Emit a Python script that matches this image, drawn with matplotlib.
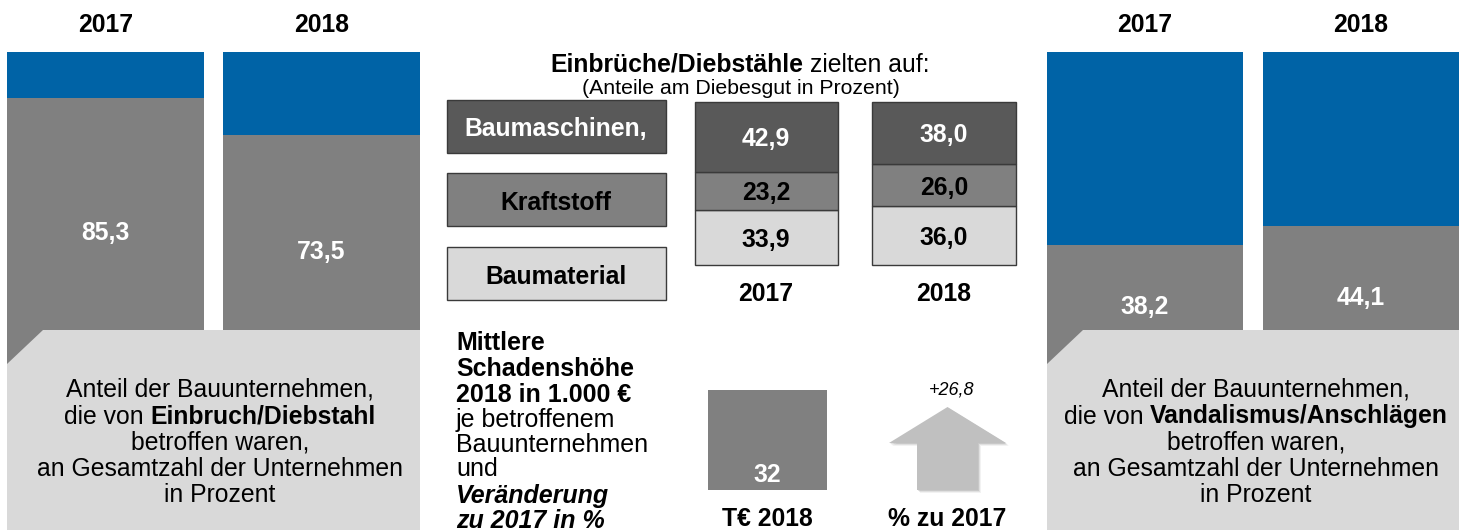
import matplotlib.pyplot as plt
from matplotlib.patches import Polygon, Rectangle, FancyArrow
import numpy as np

plt.rcParams['font.family'] = ['Liberation Sans', 'DejaVu Sans']

# values
years = ['2017', '2018']
theft_share = [85.3, 73.5]      # Einbruch/Diebstahl, % of companies
vandal_share = [38.2, 44.1]     # Vandalismus/Anschläge, % of companies
loot_labels = ['Baumaschinen,', 'Kraftstoff', 'Baumaterial']
loot_2017 = [42.9, 23.2, 33.9]
loot_2018 = [38.0, 26.0, 36.0]
damage_2018 = 32                # T€ per affected company
change_pct = 26.8               # % vs 2017

W, H = 1467, 530
BLUE = '#0063a6'
GRAY = '#808080'
DARK = '#595959'
LIGHT = '#d9d9d9'
FS = 17.8

fig = plt.figure(figsize=(W / 100, H / 100), dpi=100)


def px_axes(x0, y0, x1, y1):
    ax = fig.add_axes([x0 / W, 1 - y1 / H, (x1 - x0) / W, (y1 - y0) / H])
    ax.axis('off')
    return ax


def fmt(v):
    return f'{v:.1f}'.replace('.', ',')


# share panels (left: theft, right: vandalism)
def share_panel(x0, x1, values, w=0.91):
    ax = px_axes(x0, 52, x1, 364)
    x = np.arange(len(values))
    vals = np.array(values)
    ax.bar(x, vals, w, color=GRAY)
    ax.bar(x, 100 - vals, w, bottom=vals, color=BLUE)
    ax.set_xlim(-w / 2, len(values) - 1 + w / 2)
    ax.set_ylim(0, 100)
    for i, v in enumerate(vals):
        ax.text(i, v / 2, fmt(v), ha='center', va='center_baseline',
                color='white', fontsize=FS, weight='bold')
        ax.text(i, 1.093, years[i], transform=ax.get_xaxis_transform(),
                ha='center', va='center_baseline', fontsize=FS, weight='bold')
    return ax


share_panel(7, 420, theft_share)
share_panel(1047, 1459, vandal_share, w=0.907)

# stacked loot bars in the middle
ax_m = px_axes(694.5, 102, 1015.5, 265)
wm = 0.806
loot = np.array([loot_2017, loot_2018])  # rows: years, cols: categories
seg_colors = [DARK, GRAY, LIGHT]
txt_colors = ['white', 'black', 'black']
for i in range(len(years)):
    bottom = 0
    # stack from the bottom: Baumaterial, Kraftstoff, Baumaschinen
    for j in [2, 1, 0]:
        v = loot[i, j]
        ax_m.bar(i, v, wm, bottom=bottom, color=seg_colors[j],
                 edgecolor='#3a3a3a', linewidth=1, clip_on=False)
        ax_m.text(i, bottom + v / 2, fmt(v), ha='center', va='center_baseline',
                  color=txt_colors[j], fontsize=FS, weight='bold')
        bottom += v
    ax_m.text(i, -0.165, years[i], transform=ax_m.get_xaxis_transform(),
              ha='center', va='center_baseline', fontsize=FS, weight='bold')
ax_m.set_xlim(-wm / 2, 1 + wm / 2)
ax_m.set_ylim(0, 100)

# mean damage square
ax_d = px_axes(708, 390, 827, 490)
ax_d.bar(0, damage_2018, 1, color=GRAY)
ax_d.set_xlim(-0.5, 0.5)
ax_d.set_ylim(0, damage_2018)
ax_d.text(0, damage_2018 * 0.18, f'{damage_2018}', ha='center', va='center_baseline',
          color='white', fontsize=FS, weight='bold')

# overlay in pixel coordinates for boxes and text
ov = fig.add_axes([0, 0, 1, 1])
ov.set_xlim(0, W)
ov.set_ylim(H, 0)
ov.axis('off')
r = fig.canvas.get_renderer()


def rich_line(x, y, parts, size=FS, ha='center'):
    sp = size * 100 / 72 * 0.278
    arts, widths = [], []
    for s, kw in parts:
        t = ov.text(0, y, s, fontsize=size, va='center_baseline', ha='left', **kw)
        arts.append(t)
        widths.append(t.get_window_extent(r).width)
    total = sum(widths) + sp * (len(parts) - 1)
    start = x - total / 2 if ha == 'center' else x
    for t, w in zip(arts, widths):
        t.set_x(start)
        start += w + sp


# light gray caption boxes with cut corner
for bx0, bx1 in [(7, 420), (1047, 1459)]:
    ov.add_patch(Polygon([(bx0, 364), (bx0 + 36, 330), (bx1, 330), (bx1, H), (bx0, H)],
                         closed=True, color=LIGHT, lw=0))

line_y = [387, 414, 440, 466, 492]
for cx, word in [(220, 'Einbruch/Diebstahl'), (1256, 'Vandalismus/Anschlägen')]:
    rich_line(cx, line_y[0], [('Anteil der Bauunternehmen,', {})])
    rich_line(cx, line_y[1], [('die von', {}), (word, {'weight': 'bold'})])
    rich_line(cx, line_y[2], [('betroffen waren,', {})])
    rich_line(cx, line_y[3], [('an Gesamtzahl der Unternehmen', {})])
    rich_line(cx, line_y[4], [('in Prozent', {})])

# middle title
rich_line(740, 62, [('Einbrüche/Diebstähle', {'weight': 'bold'}), ('zielten auf:', {})])
ov.text(741, 86, '(Anteile am Diebesgut in Prozent)', ha='center',
        va='center_baseline', fontsize=15.3)

# legend boxes
for lab, fc, tc, y0 in zip(loot_labels, seg_colors, txt_colors, [100, 173, 247]):
    ov.add_patch(Rectangle((447, y0), 219, 53, facecolor=fc, edgecolor='#3a3a3a', lw=1))
    ov.text(556, y0 + 27, lab, ha='center', va='center_baseline', color=tc,
            fontsize=FS, weight='bold')

# damage description
desc = [('Mittlere', 'bold', 'normal'), ('Schadenshöhe', 'bold', 'normal'),
        ('2018 in 1.000 €', 'bold', 'normal'), ('je betroffenem', 'normal', 'normal'),
        ('Bauunternehmen', 'normal', 'normal'), ('und', 'normal', 'normal'),
        ('Veränderung', 'bold', 'italic'), ('zu 2017 in %', 'bold', 'italic')]
for (s, wt, st), y in zip(desc, [340, 366, 392, 417, 443, 467, 494, 518]):
    ov.text(456, y, s, ha='left', va='center_baseline', fontsize=18,
            weight=wt, style=st)

ov.text(767, 517, 'T€ 2018', ha='center', va='center_baseline', fontsize=FS, weight='bold')

# change arrow with a soft shadow
for off, a in [(3, 0.08), (2, 0.12), (1, 0.18)]:
    ov.add_patch(FancyArrow(947.5 + off, 490 + off, 0, -83, width=61, head_width=117,
                            head_length=36, length_includes_head=True,
                            color='#606060', alpha=a, lw=0))
ov.add_patch(FancyArrow(947.5, 490, 0, -83, width=61, head_width=117, head_length=36,
                        length_includes_head=True, color='#c0c0c0', lw=0))
ov.text(952, 388, '+' + fmt(change_pct), ha='center', va='center_baseline',
        fontsize=13, style='italic')
ov.text(947, 517, '% zu 2017', ha='center', va='center_baseline', fontsize=FS, weight='bold')

fig.savefig('out.png', dpi=100)
